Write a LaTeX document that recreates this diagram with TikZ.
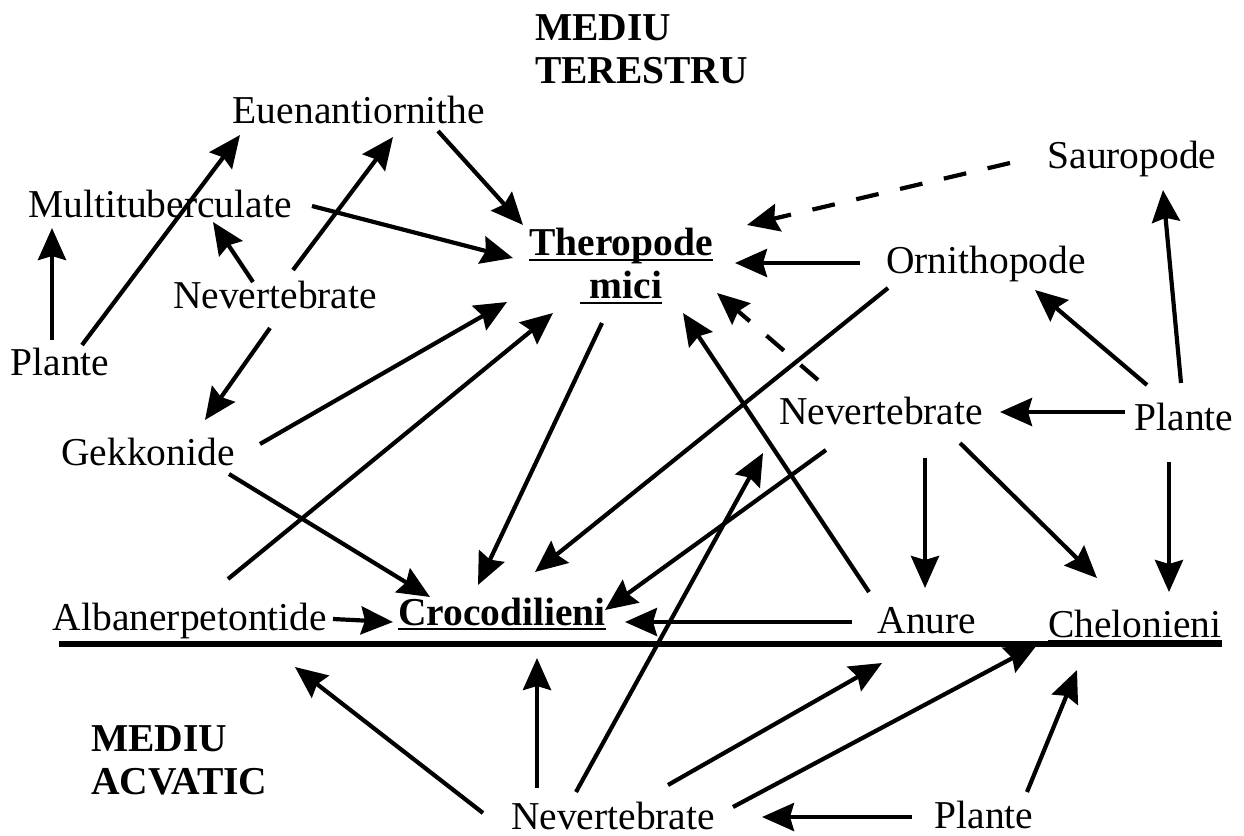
\documentclass[tikz,border=0pt]{standalone}
\usepackage{fontspec}
\setmainfont{Liberation Serif}
\usetikzlibrary{arrows.meta}
\newcommand\myul[1]{\setbox0\hbox{#1}\rlap{\rule[-2.5pt]{\wd0}{1pt}}\box0}
\newcommand\conn[5][arr]{\draw[#1] ([shift={#3}]#2) -- ([shift={#5}]#4);}
\begin{document}
\begin{tikzpicture}[x=0.5pt,y=-0.5pt,
  every node/.style={font=\fontsize{19.75}{21.5}\selectfont, inner sep=0pt, outer sep=0pt},
  lbl/.style={anchor=base},
  head/.style={anchor=north west, align=left, font=\fontsize{19.75}{21.5}\selectfont\bfseries},
  arr/.style={line width=2.1pt, -{Stealth[length=16pt,width=14pt,inset=2pt]}},
  darr/.style={arr, dash pattern=on 11.5pt off 11pt},
  sep/.style={line width=3pt}]
\useasboundingbox[fill=white] (0,0) rectangle (1244,836);
% headings
\node[head] (hterr) at (535,15) {MEDIU\\TERESTRU};
\node[head] (hacv) at (91,726) {MEDIU\\ACVATIC};
% labels
\node[lbl] (euen) at (359,123) {Euenantiornithe};
\node[lbl] (multi) at (160,217) {Multituberculate};
\node[lbl] (nevl) at (275,308) {Nevertebrate};
\node[lbl] (plantel) at (60,375) {Plante};
\node[lbl] (gekk) at (148,465) {Gekkonide};
\node[lbl] (alb) at (190,630) {Albanerpetontide};
\node[lbl] (croc) at (502,625) {\bfseries\myul{Crocodilieni}};
\node[align=center] (thero) at (621,266) {\bfseries\myul{Theropode}\\\bfseries\myul{\ mici}};
\node[lbl] (sauro) at (1132,168) {Sauropode};
\node[lbl] (ornith) at (986,273) {Ornithopode};
\node[lbl] (nevr) at (881,424) {Nevertebrate};
\node[lbl] (pr) at (1184,430) {Plante};
\node[lbl] (anure) at (927,633) {Anure};
\node[lbl] (chel) at (1135,637) {\myul{Chelonieni}};
\node[lbl] (nevb) at (613,829) {Nevertebrate};
\node[lbl] (pb) at (984,828) {Plante};
% separator between environments
\draw[sep] (59,644) -- (1222,644);
% connectors
\conn{plantel.base}{(-8,-35)}{multi.base}{(-108,11)}
\conn{plantel.base}{(22,-30)}{euen.base}{(-119,12)}
\conn{nevl.base}{(-22,-26)}{multi.base}{(53,5)}
\conn{nevl.base}{(18,-38)}{euen.base}{(34,14)}
\conn{nevl.base}{(-5,20)}{gekk.base}{(57,-45)}
\conn{euen.base}{(79,8)}{thero.center}{(-98,-41)}
\conn{multi.base}{(152,-11)}{thero.center}{(-108,-8)}
\conn{gekk.base}{(112,-21)}{thero.center}{(-114,36)}
\conn{alb.base}{(38,-51)}{thero.center}{(-68,47)}
\conn{thero.center}{(-19,57)}{croc.base}{(-24,-40)}
\conn{gekk.base}{(81,9)}{croc.base}{(-72,-28)}
\conn{alb.base}{(143,-11)}{croc.base}{(-109,-3)}
\conn{ornith.base}{(-98,15)}{croc.base}{(33,-53)}
\conn{nevr.base}{(-55,26)}{croc.base}{(103,-15)}
\conn{anure.base}{(-75,-11)}{croc.base}{(123,-3)}
\conn{anure.base}{(-58,-41)}{thero.center}{(62,47)}
\conn[darr]{nevr.base}{(-63,-44)}{thero.center}{(96,27)}
\conn{ornith.base}{(-126,-10)}{thero.center}{(114,-3)}
\conn[darr]{sauro.base}{(-122,-5)}{thero.center}{(126,-41)}
\conn{pr.base}{(-37,-45)}{ornith.base}{(49,17)}
\conn{pr.base}{(-3,-47)}{sauro.base}{(31,22)}
\conn{pr.base}{(-59,-18)}{nevr.base}{(119,-12)}
\conn{pr.base}{(-15,32)}{chel.base}{(34,-45)}
\conn{nevr.base}{(44,34)}{anure.base}{(-2,-45)}
\conn{nevr.base}{(79,19)}{chel.base}{(-38,-59)}
\conn{nevb.base}{(-37,-37)}{nevr.base}{(-118,29)}
\conn{nevb.base}{(-76,-41)}{croc.base}{(35,33)}
\conn{nevb.base}{(-130,-16)}{alb.base}{(105,37)}
\conn{nevb.base}{(55,-44)}{anure.base}{(-45,30)}
\conn{nevb.base}{(120,-22)}{chel.base}{(-98,8)}
\conn{pb.base}{(-72,-11)}{nevb.base}{(149,-12)}
\conn{pb.base}{(43,-36)}{chel.base}{(-58,33)}
\end{tikzpicture}
\end{document}
